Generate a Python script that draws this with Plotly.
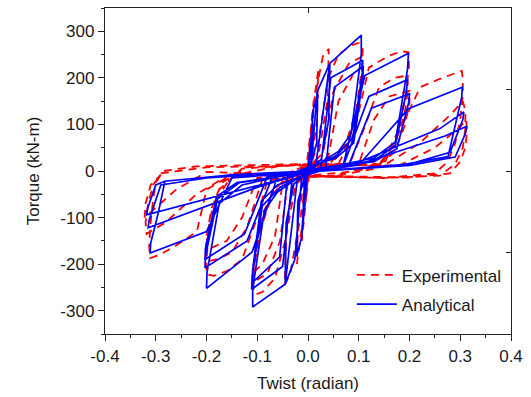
import plotly.graph_objects as go

# Torque-twist hysteresis: experimental test vs analytical model
exp_twist = [
    0.0,
    0.003, 0.006, 0.004, 0.0, -0.003, -0.006, -0.004, 0.0,
    0.005, 0.011, 0.009, 0.002, -0.004, -0.012, -0.009, -0.002,
    0.008, 0.02, 0.018, 0.005, -0.008, -0.022, -0.019, -0.005,
    0.012, 0.03, 0.041, 0.038, 0.02, 0.0, -0.015, -0.035, -0.046, -0.043, -0.025, 0.0,
    0.02, 0.04, 0.06, 0.085, 0.1, 0.108, 0.106, 0.1, 0.095, 0.075, 0.04, 0.0,
    -0.03, -0.045, -0.065, -0.09, -0.103, -0.108, -0.105, -0.095, -0.07, -0.03, 0.0,
    0.03, 0.05, 0.08, 0.105, 0.107, 0.098, 0.08, 0.045, 0.0,
    -0.04, -0.055, -0.08, -0.107, -0.106, -0.095, -0.07, -0.03,
    0.04, 0.06, 0.09, 0.108, 0.106, 0.095, 0.075, 0.04, 0.0,
    -0.05, -0.065, -0.09, -0.108, -0.106, -0.094, -0.068, -0.02,
    0.06, 0.09, 0.12, 0.16, 0.185, 0.198, 0.199, 0.192, 0.175, 0.15, 0.1, 0.0,
    -0.08, -0.1, -0.13, -0.16, -0.185, -0.2, -0.2, -0.195, -0.18, -0.15, -0.05,
    0.08, 0.11, 0.14, 0.17, 0.196, 0.197, 0.19, 0.17, 0.14, 0.05,
    -0.09, -0.12, -0.15, -0.18, -0.202, -0.2, -0.193, -0.175, -0.13, 0.0,
    0.1, 0.13, 0.16, 0.2, 0.2, 0.19, 0.17, 0.13, 0.05,
    -0.1, -0.13, -0.16, -0.2, -0.2, -0.19, -0.17, -0.12, 0.0,
    0.15, 0.19, 0.221, 0.26, 0.29, 0.303, 0.305, 0.305, 0.3, 0.29, 0.275, 0.25, 0.15, 0.0,
    -0.15, -0.2, -0.219, -0.26, -0.292, -0.311, -0.313, -0.31, -0.305, -0.3, -0.285, -0.22, -0.12, 0.0,
    0.15, 0.22, 0.28, 0.305, 0.31, 0.31, 0.305, 0.29, 0.26, 0.15, 0.0,
    -0.15, -0.22, -0.28, -0.318, -0.32, -0.315, -0.305, -0.29, -0.2, 0.0,
    0.18, 0.25, 0.3, 0.312, 0.313, 0.31, 0.3, 0.28, 0.2, 0.0,
    -0.2, -0.26, -0.31, -0.322, -0.32, -0.31, -0.29,
]
exp_torque = [
    0,
    40, 80, 30, 5, -35, -75, -25, -3,
    70, 150, 70, 10, -60, -150, -60, -8,
    120, 215, 110, 15, -90, -200, -90, -10,
    150, 250, 262, 150, 30, 5, -100, -220, -245, -140, -30, -5,
    60, 200, 250, 270, 275, 265, 220, 170, 130, 60, 15, -3,
    -20, -150, -230, -260, -265, -250, -200, -130, -50, -5, 5,
    40, 170, 230, 245, 210, 140, 70, 18, 0,
    -25, -150, -220, -238, -200, -120, -45, 0,
    30, 150, 210, 225, 190, 120, 50, 10, -5,
    -25, -140, -200, -218, -185, -105, -40, 5,
    15, 80, 222, 248, 257, 255, 225, 160, 80, 25, 0, -10,
    -20, -100, -190, -215, -225, -222, -190, -130, -60, -10, 12,
    10, 90, 180, 200, 205, 175, 120, 55, 15, -10,
    -18, -120, -175, -190, -195, -160, -100, -40, 5, 15,
    15, 110, 160, 172, 145, 95, 40, 5, -12,
    -15, -100, -150, -170, -140, -80, -25, 8, 14,
    15, 110, 180, 198, 210, 215, 198, 162, 110, 60, 20, -5, -15, -12,
    -8, -40, -130, -160, -180, -187, -160, -110, -60, -25, 0, 10, 13, 15,
    12, 60, 120, 150, 130, 90, 50, 15, -10, -15, -10,
    -5, -50, -110, -135, -110, -70, -30, -5, 8, 12,
    12, 50, 95, 110, 80, 50, 20, -5, -14, -10,
    -2, -40, -90, -100, -70, -30, -8,
]

ana_twist = [
    0.0,
    0.004, 0.003, -0.002, -0.005, -0.004, 0.001,
    0.009, 0.007, -0.003, -0.010, -0.008, 0.002,
    0.010, 0.019, 0.017, 0.004, -0.006, -0.012, -0.022, -0.020, -0.006, 0.006,
    0.018, 0.043, 0.041, 0.026, 0.0, -0.012, -0.026, -0.045, -0.043, -0.028, 0.0, 0.012,
    0.015, 0.043, 0.105, 0.105, 0.085, 0.06, 0.02, -0.02, -0.045, -0.109, -0.109, -0.086, -0.06, -0.02, 0.025,
    0.045, 0.108, 0.107, 0.088, 0.055, 0.01, -0.03, -0.05, -0.111, -0.110, -0.09, -0.055, -0.01, 0.035,
    0.052, 0.109, 0.108, 0.09, 0.055, 0.0, -0.04, -0.056, -0.110, -0.109, -0.092, -0.06, 0.0, 0.07,
    0.112, 0.198, 0.196, 0.172, 0.13, 0.05, -0.06, -0.11, -0.200, -0.199, -0.175, -0.13, -0.05, 0.07,
    0.12, 0.196, 0.194, 0.172, 0.13, 0.0, -0.07, -0.12, -0.203, -0.202, -0.178, -0.135, 0.0, 0.08,
    0.125, 0.200, 0.198, 0.175, 0.13, 0.0, -0.08, -0.125, -0.203, -0.202, -0.18, -0.14, 0.0, 0.10,
    0.198, 0.304, 0.303, 0.29, 0.276, 0.168, 0.0, -0.15,
    -0.2, -0.311, -0.310, -0.295, -0.282, -0.15, 0.0, 0.102,
    0.26, 0.307, 0.305, 0.28, 0.2, 0.0, -0.095,
    -0.315, -0.313, -0.29, -0.2, 0.0, 0.102,
    0.27, 0.313, 0.31, 0.29, 0.2, 0.0, -0.095,
    -0.318, -0.316, -0.3, -0.282,
]
ana_torque = [
    0,
    55, 20, 0, -60, -20, 0,
    110, 40, -2, -120, -45, 2,
    130, 165, 60, 8, -8, -140, -182, -65, -10, 8,
    170, 231, 110, 25, 2, -8, -190, -243, -110, -28, -2, 8,
    10, 231, 292, 251, 80, 42, 15, -8, -243, -292, -254, -85, -45, -15, 8,
    200, 238, 210, 70, 32, 10, -8, -205, -254, -225, -75, -35, -10, 8,
    180, 225, 198, 60, 28, 8, -8, -185, -240, -212, -65, -30, -8, 15,
    205, 253, 218, 62, 28, 10, -12, -174, -252, -218, -70, -30, -10, 12,
    160, 196, 170, 55, 22, 3, -12, -150, -208, -182, -60, -25, -3, 12,
    135, 166, 145, 48, 20, 2, -12, -135, -190, -165, -55, -25, -2, 13,
    134, 180, 159, 100, 31, 10, -2, -15,
    -130, -176, -155, -90, -22, -8, 0, 20,
    91, 127, 110, 40, 15, -2, -33,
    -122, -105, -30, -15, 0, 15,
    75, 96, 80, 30, 12, -2, -30,
    -94, -80, -30, -22,
]

x_ticks = [-0.4, -0.3, -0.2, -0.1, 0.0, 0.1, 0.2, 0.3, 0.4]
x_tick_text = ["-0.4", "-0.3", "-0.2", "-0.1", "0.0", "0.1", "0.2", "0.3", "0.4"]
y_ticks = [-300, -200, -100, 0, 100, 200, 300]
y_tick_text = ["-300", "-200", "-100", "0", "100", "200", "300"]

axis_font = dict(family="Liberation Sans, Arial, sans-serif", size=17, color="#1a1a1a")

fig = go.Figure()
fig.add_trace(go.Scatter(
    x=exp_twist, y=exp_torque, mode="lines", name="Experimental",
    line=dict(color="#ff0000", width=1.8, dash="8px,6px"),
    legendgroup="exp",
))
fig.add_trace(go.Scatter(
    x=ana_twist, y=ana_torque, mode="lines", name="Analytical",
    line=dict(color="#0000ff", width=1.7),
    legendgroup="ana",
))
# empty trace so the mirrored top/right axes get drawn
fig.add_trace(go.Scatter(x=[None], y=[None], xaxis="x2", yaxis="y2",
                         showlegend=False, hoverinfo="skip"))

fig.update_layout(
    width=531, height=397,
    margin=dict(l=105, r=20, t=8, b=60),
    paper_bgcolor="white", plot_bgcolor="white",
    font=axis_font,
    showlegend=True,
    legend=dict(x=0.608, y=0.235, xanchor="left", yanchor="top",
                bgcolor="rgba(0,0,0,0)", font=axis_font,
                tracegroupgap=4, itemwidth=40),
    xaxis=dict(
        range=[-0.4, 0.4], tickvals=x_ticks, ticktext=x_tick_text,
        ticks="outside", ticklen=6, tickwidth=1.3, tickcolor="#222",
        minor=dict(ticks="outside", ticklen=3, tickwidth=1.1, tickcolor="#222", dtick=0.05, tick0=0.05, showgrid=False),
        showline=True, linecolor="#222", linewidth=1.4, showgrid=False, zeroline=False,
        title=dict(text="Twist (radian)", standoff=12, font=axis_font),
        tickfont=axis_font,
    ),
    yaxis=dict(
        range=[-350, 350], tickvals=y_ticks, ticktext=y_tick_text,
        ticks="outside", ticklen=6, tickwidth=1.3, tickcolor="#222",
        minor=dict(ticks="outside", ticklen=3, tickwidth=1.1, tickcolor="#222", dtick=50, tick0=50, showgrid=False),
        showline=True, linecolor="#222", linewidth=1.4, showgrid=False, zeroline=False,
        title=dict(text="Torque (kN-m)", standoff=16, font=axis_font),
        tickfont=axis_font,
    ),
    xaxis2=dict(
        overlaying="x", side="top", anchor="y", range=[-0.4, 0.4],
        tickvals=[-0.4, 0.0, 0.4], showticklabels=False,
        ticks="inside", ticklen=5, tickwidth=1.3, tickcolor="#222",
        showline=True, linecolor="#222", linewidth=1.4, showgrid=False, zeroline=False,
    ),
    yaxis2=dict(
        overlaying="y", side="right", anchor="x", range=[-350, 350],
        tickvals=[-350, -175, 0, 175, 350], showticklabels=False,
        ticks="inside", ticklen=5, tickwidth=1.3, tickcolor="#222",
        showline=True, linecolor="#222", linewidth=1.4, showgrid=False, zeroline=False,
    ),
)

fig.write_html("out.html")
